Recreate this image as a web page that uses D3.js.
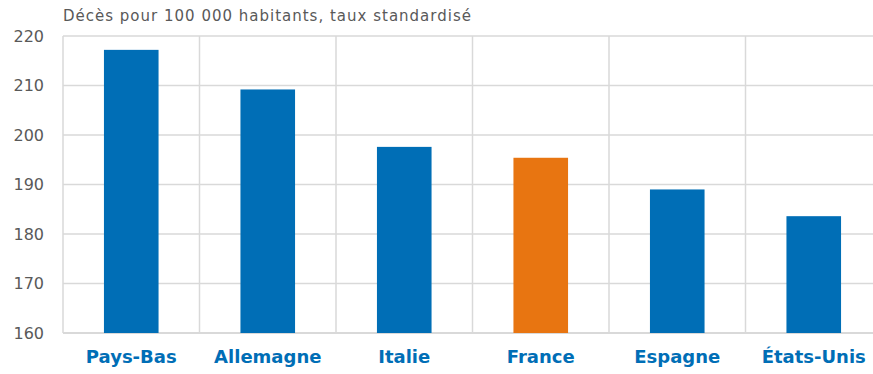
<!DOCTYPE html>
<html>
<head>
<meta charset="utf-8">
<script src="https://cdn.jsdelivr.net/npm/d3@7"></script>
<style>
  html, body { margin: 0; padding: 0; background: #fff; overflow: hidden; }
  svg { display: block; }
</style>
</head>
<body>
<svg id="chart" width="873" height="374"></svg>
<script>
// Age-standardised death rates, per 100 000 inhabitants
const countries = ["Pays-Bas", "Allemagne", "Italie", "France", "Espagne", "États-Unis"];
const rates = [217.2, 209.2, 197.6, 195.4, 189.0, 183.6];
const highlighted = ["France"];
const yTicks = [160, 170, 180, 190, 200, 210, 220];
const unitLabel = "Décès pour 100 000 habitants, taux standardisé";

const svg = d3.select("#chart");
const margin = { left: 63, top: 36, bottom: 41 };
const plotRight = 882;            // last column runs past the frame edge
const height = 374;

const x = d3.scaleBand()
  .domain(countries)
  .range([margin.left, plotRight])
  .padding(0);

const y = d3.scaleLinear()
  .domain([160, 220])
  .range([height - margin.bottom, margin.top]);

const gridColor = "#d9d9d9";
const font = "'DejaVu Sans', sans-serif";

// horizontal grid
svg.append("g")
  .selectAll("line")
  .data(yTicks)
  .join("line")
  .attr("x1", margin.left)
  .attr("x2", plotRight)
  .attr("y1", d => y(d))
  .attr("y2", d => y(d))
  .attr("stroke", gridColor)
  .attr("stroke-width", d => d === 160 ? 2 : 1.5);

// vertical separators between categories
const bounds = countries.map(c => x(c)).concat([x(countries[countries.length - 1]) + x.bandwidth()]);
svg.append("g")
  .selectAll("line")
  .data(bounds)
  .join("line")
  .attr("x1", d => d)
  .attr("x2", d => d)
  .attr("y1", y(220))
  .attr("y2", y(160))
  .attr("stroke", gridColor)
  .attr("stroke-width", 1.5);

// bars
const barFrac = 0.4;
svg.append("g")
  .selectAll("rect")
  .data(countries.map((c, i) => ({ c, v: rates[i] })))
  .join("rect")
  .attr("x", d => x(d.c) + x.bandwidth() * (1 - barFrac) / 2)
  .attr("width", x.bandwidth() * barFrac)
  .attr("y", d => y(d.v))
  .attr("height", d => y(160) - y(d.v))
  .attr("fill", d => highlighted.includes(d.c) ? "#E87511" : "#006EB6");

// y axis labels
const yAxis = d3.axisLeft(y).tickValues(yTicks).tickSize(0).tickPadding(0);
const yg = svg.append("g")
  .attr("transform", `translate(${margin.left - 19},0)`)
  .call(yAxis);
yg.select(".domain").remove();
yg.selectAll("text")
  .attr("fill", "#595959")
  .attr("font-family", font)
  .attr("font-size", 16);

// category labels
const xAxis = d3.axisBottom(x).tickSize(0).tickPadding(0);
const xg = svg.append("g")
  .attr("transform", `translate(0,${y(160) + 17})`)
  .call(xAxis);
xg.select(".domain").remove();
xg.selectAll("text")
  .attr("fill", "#006EB6")
  .attr("font-family", font)
  .attr("font-weight", 700)
  .attr("font-size", 18)
  .attr("dy", "0.71em");

// unit label
svg.append("text")
  .attr("x", margin.left)
  .attr("y", 21)
  .attr("fill", "#595959")
  .attr("font-family", font)
  .attr("font-size", 15)
  .attr("letter-spacing", 1)
  .text(unitLabel);
</script>
</body>
</html>
